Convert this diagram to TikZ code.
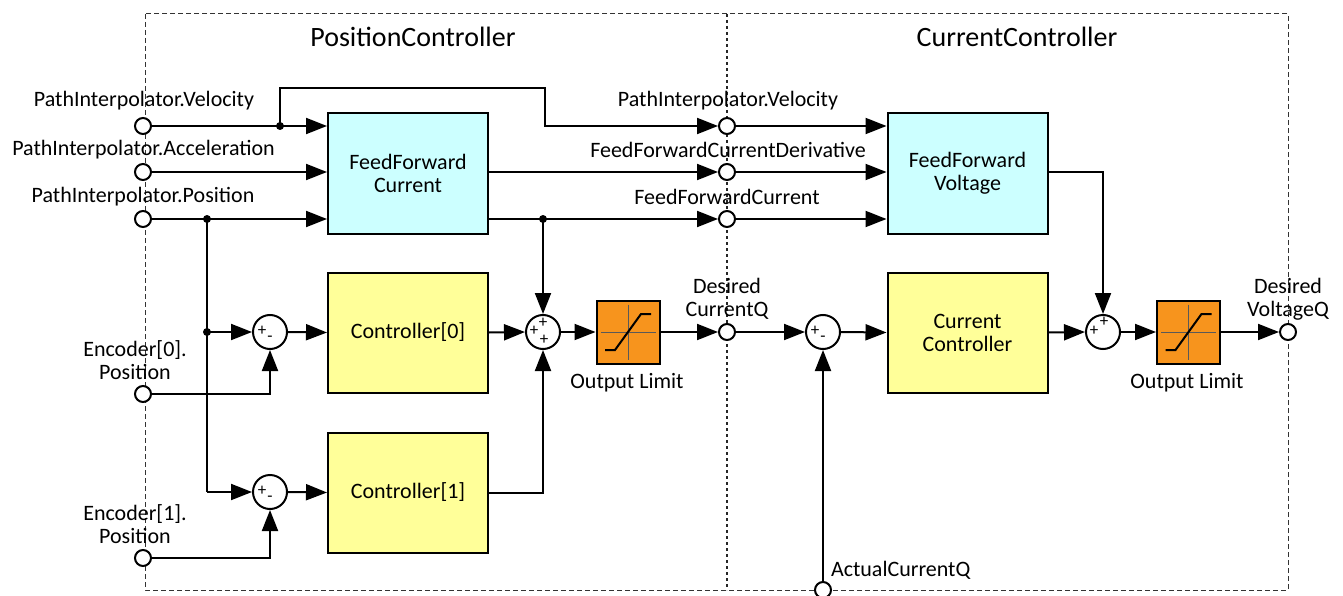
\documentclass[tikz,border=0pt]{standalone}
\usepackage{fontspec}
\setmainfont{Carlito}
\usetikzlibrary{arrows.meta,calc}
\definecolor{ffcyan}{HTML}{CCFFFF}
\definecolor{ctyellow}{HTML}{FFFF99}
\definecolor{limorange}{HTML}{F7941D}
\begin{document}
\begin{tikzpicture}[x=1pt,y=-1pt,line width=2pt,
 arr/.style={-{Triangle[length=21pt,width=16pt]}},
 port/.style={circle,draw,fill=white,minimum size=16pt,inner sep=0pt,line width=2pt},
 sumnode/.style={circle,draw,fill=white,minimum size=34pt,inner sep=0pt,line width=2pt},
 blk/.style={draw,minimum width=160pt,minimum height=120pt,align=center,inner sep=0pt,font=\fontsize{22}{23}\selectfont},
 ffbox/.style={blk,fill=ffcyan},
 ctbox/.style={blk,fill=ctyellow},
 limbox/.style={draw,fill=limorange,minimum width=63pt,minimum height=63pt,inner sep=0pt},
 lbl/.style={font=\fontsize{22}{23}\selectfont,align=center,inner sep=0pt},
 ttl/.style={font=\fontsize{28}{30}\selectfont,inner sep=0pt},
 sgn/.style={font=\fontsize{17}{17}\selectfont,inner sep=0pt},
 frame/.style={line width=1pt,dash pattern=on 5pt off 3pt,black!80},
 divider/.style={line width=2pt,dash pattern=on 3pt off 3pt,black!85},
 dot/.style={circle,fill,inner sep=0pt,minimum size=8pt}
]
\useasboundingbox (0,0) rectangle (1343,596);
% frames
\draw[frame] (145,14) rectangle (1288,590);
\draw[divider] (727,14) -- (727,590);
\node[ttl] (t1) at (413,37) {PositionController};
\node[ttl] (t2) at (1017,37) {CurrentController};

% blocks
\node[ffbox] (ffc) at (408,173.5) {FeedForward\\Current};
\node[ffbox] (ffv) at (967.5,173.5) {FeedForward\\Voltage};
\node[ctbox] (c0) at (408,332.5) {Controller[0]};
\node[ctbox] (c1) at (408,492.5) {Controller[1]};
\node[ctbox] (cc) at (967.5,332.5) {Current\\Controller};
\node[limbox] (lim1) at (628,332) {};
\node[limbox] (lim2) at (1188.5,332) {};
\foreach \L in {lim1,lim2}{
  \draw[line width=0.9pt,black!65] ($(\L.north)+(0,5)$) -- ($(\L.south)+(0,-5)$);
  \draw[line width=0.9pt,black!65] ($(\L.west)+(5,0)$) -- ($(\L.east)+(-5,0)$);
  \draw[line width=2pt] ($(\L)+(-23,18)$) -- ($(\L)+(-13,18)$) -- ($(\L)+(13,-18)$) -- ($(\L)+(23,-18)$);
}

% ports
\node[port] (pv) at (143,126) {};
\node[port] (pa) at (143,172) {};
\node[port] (pp) at (143,219) {};
\node[port] (pe0) at (143,394) {};
\node[port] (pe1) at (143,558) {};
\node[port] (mv) at (727,126) {};
\node[port] (md) at (727,172) {};
\node[port] (mf) at (727,219) {};
\node[port] (mq) at (727,332) {};
\node[port] (pvq) at (1288,332) {};
\node[port] (pac) at (823,590) {};

% sums
\node[sumnode] (s1) at (270,332) {};
\node[sumnode] (s2) at (270,492) {};
\node[sumnode] (s3) at (543,332) {};
\node[sumnode] (s4) at (823,332) {};
\node[sumnode] (s5) at (1103,332) {};
\foreach \S in {s1,s2,s4}{
  \node[sgn] at ($(\S)+(-8,-1)$) {+};
  \node[sgn] at ($(\S)+(0,7)$) {-};
}
\node[sgn] at ($(s3)+(0,-9)$) {+};
\node[sgn] at ($(s3)+(-9,-1)$) {+};
\node[sgn] at ($(s3)+(1,8)$) {+};
\node[sgn] at ($(s5)+(-9,-1)$) {+};
\node[sgn] at ($(s5)+(1,-10)$) {+};

% labels
\node[lbl] (l1) at (144,101) {PathInterpolator.Velocity};
\node[lbl] (l2) at (143.5,150) {PathInterpolator.Acceleration};
\node[lbl] (l3) at (143,197) {PathInterpolator.Position};
\node[lbl] (l4) at (135,360) {Encoder[0].\\Position};
\node[lbl] (l5) at (135,524) {Encoder[1].\\Position};
\node[lbl] (l6) at (728,101) {PathInterpolator.Velocity};
\node[lbl] (l7) at (728,150) {FeedForwardCurrentDerivative};
\node[lbl] (l8) at (727,197) {FeedForwardCurrent};
\node[lbl] (l9) at (727,299) {Desired\\CurrentQ};
\node[lbl] (l10) at (1288,299) {Desired\\VoltageQ};
\node[lbl] (l11) at (627,383) {Output Limit};
\node[lbl] (l12) at (1187,383) {Output Limit};
\node[lbl,anchor=west] (l13) at (830,570) {ActualCurrentQ};

% junctions
\coordinate (jv) at (280,126);
\coordinate (jvup) at (280,88);
\coordinate (jvr) at (545,88);
\coordinate (jp) at (207,219);
\coordinate (j0) at (207,332);
\coordinate (j1) at (207,492);
\coordinate (jf) at (543,219);
\coordinate (jvo) at (1103,172);
\node[dot] at (jv) {};
\node[dot] at (jp) {};
\node[dot] at (j0) {};
\node[dot] at (jf) {};

% connectors left part
\draw[arr] (pv.east) -- (pv.east -| ffc.west);
\draw[arr] (pa.east) -- (pa.east -| ffc.west);
\draw[arr] (pp.east) -- (pp.east -| ffc.west);
\draw[arr] (jv) -- (jvup) -- (jvr) |- (mv.west);
\draw[arr] (ffc.east |- md) -- (md.west);
\draw[arr] (ffc.east |- mf) -- (mf.west);
\draw[arr] (jf) -- (s3.north);
\draw (jp) -- (j1);
\draw[arr] (j0) -- (s1.west);
\draw[arr] (j1) -- (s2.west);
\draw[arr] (pe0.east) -| (s1.south);
\draw[arr] (pe1.east) -| (s2.south);
\draw[arr] (s1.east) -- (c0.west);
\draw[arr] (s2.east) -- (c1.west);
\draw[arr] (c0.east) -- (s3.west);
\draw[arr] (c1.east) -| (s3.south);
\draw[arr] (s3.east) -- (lim1.west);
\draw[arr] (lim1.east) -- (mq.west);

% connectors right part
\draw[arr] (mv.east) -- (mv.east -| ffv.west);
\draw[arr] (md.east) -- (md.east -| ffv.west);
\draw[arr] (mf.east) -- (mf.east -| ffv.west);
\draw[arr] (mq.east) -- (s4.west);
\draw[arr] (pac.north) -- (s4.south);
\draw[arr] (s4.east) -- (cc.west);
\draw[arr] (cc.east) -- (s5.west);
\draw[arr] (ffv.east |- jvo) -- (jvo) -- (s5.north);
\draw[arr] (s5.east) -- (lim2.west);
\draw[arr] (lim2.east) -- (pvq.west);
\end{tikzpicture}
\end{document}
